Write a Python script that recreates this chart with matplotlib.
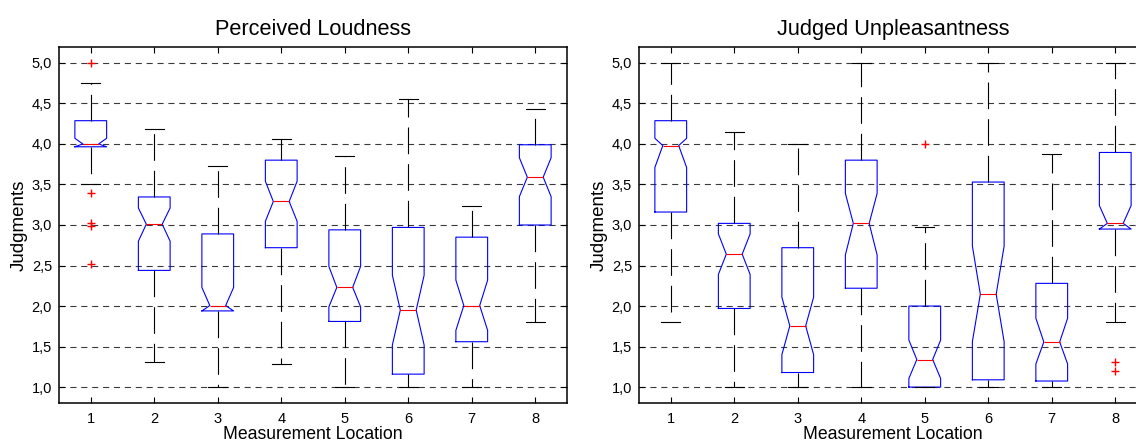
import matplotlib

matplotlib.use("Agg")
import matplotlib.pyplot as plt

# Per-location box statistics (scale 1..5).
LOCATIONS = [1, 2, 3, 4, 5, 6, 7, 8]
TITLES = ["Perceived Loudness", "Judged Unpleasantness"]

LOUD_MED = [4.00, 3.01, 2.006, 3.29, 2.23, 1.95, 2.006, 3.59]
LOUD_Q1 = [3.965, 2.44, 1.94, 2.72, 1.81, 1.16, 1.56, 3.00]
LOUD_Q3 = [4.287, 3.346, 2.89, 3.80, 2.94, 2.97, 2.85, 3.99]
LOUD_CILO = [3.965, 2.80, 1.94, 3.045, 1.99, 1.52, 1.70, 3.35]
LOUD_CIHI = [4.07, 3.21, 2.23, 3.54, 2.49, 2.38, 2.32, 3.83]
LOUD_WLO = [3.50, 1.31, 1.00, 1.28, 1.00, 1.00, 1.00, 1.80]
LOUD_WHI = [4.75, 4.18, 3.73, 4.06, 3.85, 4.56, 3.235, 4.43]
LOUD_FLIERS = [[5.0, 3.39, 3.025, 2.99, 2.52], [], [], [], [], [], [], []]

UNPL_MED = [3.98, 2.64, 1.755, 3.02, 1.34, 2.146, 1.557, 3.02]
UNPL_Q1 = [3.16, 1.97, 1.18, 2.22, 1.00, 1.09, 1.075, 2.95]
UNPL_Q3 = [4.287, 3.02, 2.72, 3.80, 2.00, 3.53, 2.28, 3.895]
UNPL_CILO = [3.71, 2.39, 1.40, 2.63, 1.107, 1.56, 1.285, 2.95]
UNPL_CIHI = [4.07, 2.89, 2.11, 3.39, 1.58, 2.74, 1.85, 3.24]
UNPL_WLO = [1.80, 1.00, 1.00, 1.00, 1.00, 1.00, 1.00, 1.80]
UNPL_WHI = [5.00, 4.15, 4.00, 5.00, 2.97, 5.00, 3.88, 5.00]
UNPL_FLIERS = [[], [], [], [], [4.0], [], [], [1.31, 1.20]]

YTICKS = [1.0, 1.5, 2.0, 2.5, 3.0, 3.5, 4.0, 4.5, 5.0]


def stats(med, q1, q3, cilo, cihi, wlo, whi, fliers):
    return [dict(med=m, q1=a, q3=b, cilo=c, cihi=d, whislo=lo, whishi=hi, fliers=f)
            for m, a, b, c, d, lo, hi, f in zip(med, q1, q3, cilo, cihi, wlo, whi, fliers)]


def draw(ax, st, title):
    ax.bxp(st, positions=LOCATIONS, widths=0.5, capwidths=0.3, shownotches=True,
           boxprops=dict(color="blue", linewidth=0.8),
           medianprops=dict(color="red", linewidth=0.8),
           whiskerprops=dict(color="black", linewidth=0.8, linestyle=(0, (24, 9))),
           capprops=dict(color="black", linewidth=0.8),
           flierprops=dict(marker="+", markeredgecolor="red", markersize=6,
                           linestyle="none"))
    ax.set_xlim(0.5, 8.5)
    ax.set_ylim(0.8, 5.2)
    ax.set_yticks(YTICKS)
    ax.set_yticklabels([f"{v:.1f}".replace(".", ",") for v in YTICKS])
    ax.set_xticks(LOCATIONS)
    ax.set_xticklabels([str(x) for x in LOCATIONS])
    ax.yaxis.grid(True, color="#3a3a3a", linewidth=0.8, linestyle=(0, (5.5, 4.3)))
    ax.set_axisbelow(True)
    ax.tick_params(direction="in", top=True, right=True, length=4, labelsize=10.5,
                   width=0.8)
    ax.tick_params(axis="x", pad=6)
    ax.tick_params(axis="y", pad=5)
    for s in ax.spines.values():
        s.set_linewidth(1.1)
    ax.set_title(title, fontsize=15.7, pad=8.5)
    ax.set_xlabel("Measurement Location", fontsize=12.7, labelpad=0)
    ax.set_ylabel("Judgments", fontsize=13.5, labelpad=3)


plt.rcParams["font.family"] = ["Liberation Sans", "DejaVu Sans"]
fig = plt.figure(figsize=(11.36, 4.43), dpi=100)
ax1 = fig.add_axes([59 / 1136, 0.0896, 508 / 1136, 0.805])
ax2 = fig.add_axes([639 / 1136, 0.0896, 508 / 1136, 0.805])
draw(ax1, stats(LOUD_MED, LOUD_Q1, LOUD_Q3, LOUD_CILO, LOUD_CIHI, LOUD_WLO, LOUD_WHI,
                LOUD_FLIERS), TITLES[0])
draw(ax2, stats(UNPL_MED, UNPL_Q1, UNPL_Q3, UNPL_CILO, UNPL_CIHI, UNPL_WLO, UNPL_WHI,
                UNPL_FLIERS), TITLES[1])
fig.savefig("out.png", dpi=100)
